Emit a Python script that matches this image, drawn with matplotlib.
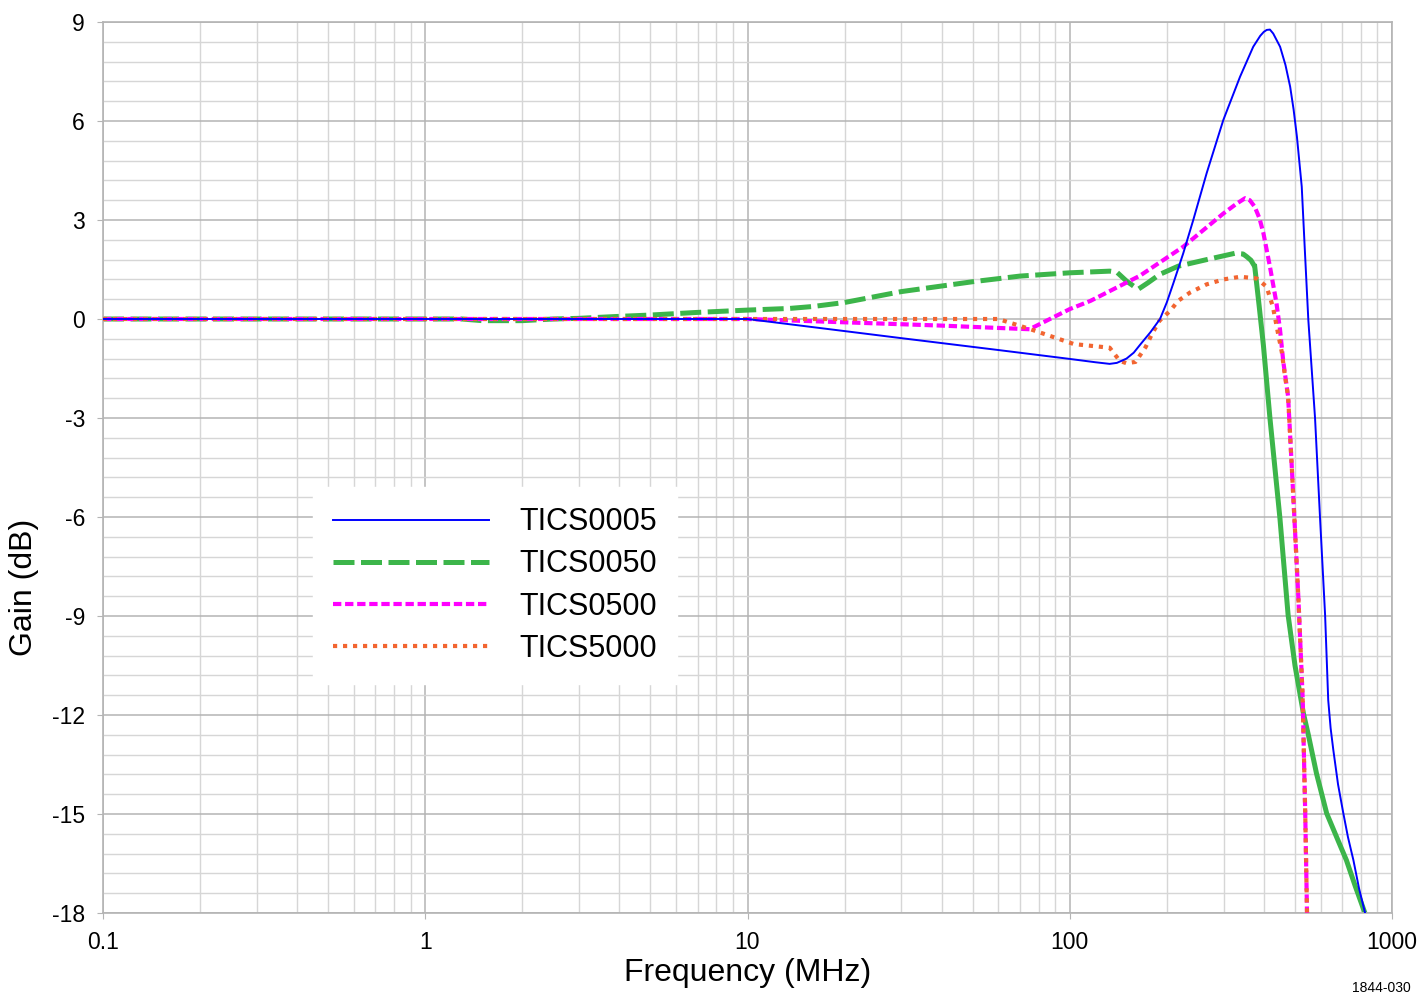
import matplotlib
matplotlib.use("Agg")
import matplotlib.pyplot as plt
from matplotlib.ticker import FixedLocator, NullFormatter, LogLocator

FONT = ['Liberation Sans', 'DejaVu Sans']
plt.rcParams['font.family'] = FONT

# ---- data (frequency in MHz, gain in dB) ----
f_0005 = [0.1, 10, 30, 60, 100, 120, 133, 140, 150, 158, 165, 178, 190.6, 200, 209.6,
          225, 241.7, 266, 299.6, 337.6, 371, 390, 400, 408.6, 418, 428, 449.5, 467,
          483, 495, 507, 524.7, 537, 550, 577, 598, 620, 634, 645, 657.5, 680, 706,
          730, 759, 790, 825]
g_0005 = [0, 0, -0.58, -0.94, -1.21, -1.31, -1.36, -1.33, -1.2, -1.02, -0.79, -0.4,
          0.0, 0.5, 1.08, 1.99, 3.0, 4.42, 6.03, 7.34, 8.25, 8.58, 8.7, 8.76, 8.77,
          8.65, 8.25, 7.7, 7.04, 6.35, 5.52, 4.01, 2.0, -0.03, -3.0, -6.03, -8.97,
          -11.55, -12.4, -13.06, -14.1, -14.97, -15.7, -16.4, -17.25, -18.0]

f_0050a = [0.1, 1.3, 1.5, 2.0, 2.5, 3, 4, 5, 7, 10, 13.5, 16, 20, 30, 50, 70, 100, 133,
           140, 150, 163, 175, 190, 217, 266, 325, 345, 354, 365, 375]
g_0050a = [0, 0, -0.05, -0.05, 0.0, 0.02, 0.08, 0.12, 0.2, 0.27, 0.32, 0.38, 0.5, 0.83,
           1.13, 1.3, 1.4, 1.45, 1.42, 1.15, 0.9, 1.1, 1.35, 1.6, 1.8, 1.99, 1.97,
           1.89, 1.78, 1.59]
f_0050b = [375, 387, 399, 418, 449, 476, 500, 531, 550, 583, 627, 680, 722, 770, 824]
g_0050b = [1.59, 0.4, -0.8, -3.0, -6.04, -8.97, -10.5, -11.95, -12.6, -13.77, -14.98,
           -15.8, -16.4, -17.2, -18.0]

f_0500 = [0.1, 10, 20, 40, 75, 100, 116, 165, 225, 300, 330, 350, 362, 375, 388, 399,
          418, 438, 449, 460, 476, 488, 500, 512, 528, 538, 546, 550]
g_0500 = [0, 0, -0.1, -0.2, -0.31, 0.3, 0.55, 1.31, 2.19, 3.2, 3.5, 3.66, 3.6, 3.4,
          3.05, 2.6, 1.59, 0.48, -0.3, -1.3, -2.35, -4.37, -6.39, -8.41, -11.44, -15.0,
          -18.5, -20]

f_5000 = [0.1, 60, 75, 103, 133, 143, 150, 160, 172, 180, 190, 205, 217, 236, 266, 300,
          338, 380, 408, 427, 443, 455, 465, 476, 488, 500, 512, 528, 538, 546, 550]
g_5000 = [0, 0, -0.3, -0.76, -0.87, -1.27, -1.34, -1.3, -0.85, -0.45, -0.05, 0.25,
          0.55, 0.8, 1.05, 1.2, 1.28, 1.23, 0.98, 0.37, -0.44, -1.0, -1.7, -2.35, -4.37,
          -6.39, -8.41, -11.44, -15.0, -18.5, -20]

labels = ['TICS0005', 'TICS0050', 'TICS0500', 'TICS5000']
y_ticks = [9, 6, 3, 0, -3, -6, -9, -12, -15, -18]
x_ticks = [0.1, 1, 10, 100, 1000]
x_ticklabels = ['0.1', '1', '10', '100', '1000']

c_blue, c_green, c_mag, c_orange = '#0000ff', '#3cb54a', '#ff00ff', '#f26531'

fig = plt.figure(figsize=(14.18, 9.98), dpi=100)
ax = fig.add_axes([103/1418, 1-913/998, 1289/1418, 891/998])

ax.set_xscale('log')
ax.set_xlim(0.1, 1000)
ax.set_ylim(-18, 9)

l_g, = ax.plot(f_0050a, g_0050a, color=c_green, lw=3.6, dashes=(4.2, 1.3), zorder=2,
               solid_capstyle='butt', dash_capstyle='butt')
ax.plot(f_0050b, g_0050b, color=c_green, lw=3.6, zorder=2)
l_m, = ax.plot(f_0500, g_0500, color=c_mag, lw=3.0, dashes=(2.0, 0.9), zorder=3)
l_o, = ax.plot(f_5000, g_5000, color=c_orange, lw=3.0, dashes=(1.0, 1.4), zorder=4)
l_b, = ax.plot(f_0005, g_0005, color=c_blue, lw=1.4, zorder=5)

# grid
ax.yaxis.set_major_locator(FixedLocator(y_ticks))
ax.yaxis.set_minor_locator(FixedLocator([v / 10 for v in range(-180, 91, 6)]))
ax.xaxis.set_major_locator(FixedLocator(x_ticks))
ax.xaxis.set_minor_locator(LogLocator(base=10, subs=range(2, 10), numticks=20))
ax.xaxis.set_minor_formatter(NullFormatter())
ax.set_xticklabels(x_ticklabels)
ax.set_yticklabels([str(v) for v in y_ticks])
ax.grid(which='major', color='#b4b4b4', lw=1.1, zorder=0)
ax.grid(which='minor', color='#d6d6d6', lw=1.0, zorder=0)
ax.set_axisbelow(True)
for s in ax.spines.values():
    s.set_color('#b4b4b4')
    s.set_linewidth(1.2)
ax.tick_params(which='major', length=4, color='#b4b4b4', labelsize=16.5, pad=9)
ax.tick_params(which='minor', length=0)

ax.set_xlabel('Frequency (MHz)', fontsize=23)
ax.xaxis.set_label_coords(0.5, -0.051)
ax.set_ylabel('Gain (dB)', fontsize=23)
ax.yaxis.set_label_coords(-0.05, 0.365)

leg = ax.legend([l_b, l_g, l_m, l_o], labels, loc='upper left',
                bbox_to_anchor=(0.163, 0.478), prop={'size': 22},
                frameon=True, fancybox=False, framealpha=1, edgecolor='white',
                handlelength=5.1, handletextpad=1.0, labelspacing=0.40,
                borderpad=0.66, borderaxespad=0)
leg.set_zorder(10)

fig.text(1381/1418, 1-988/998, '1844-030', fontsize=10, ha='center', va='center')

fig.savefig('out.png', dpi=100)
